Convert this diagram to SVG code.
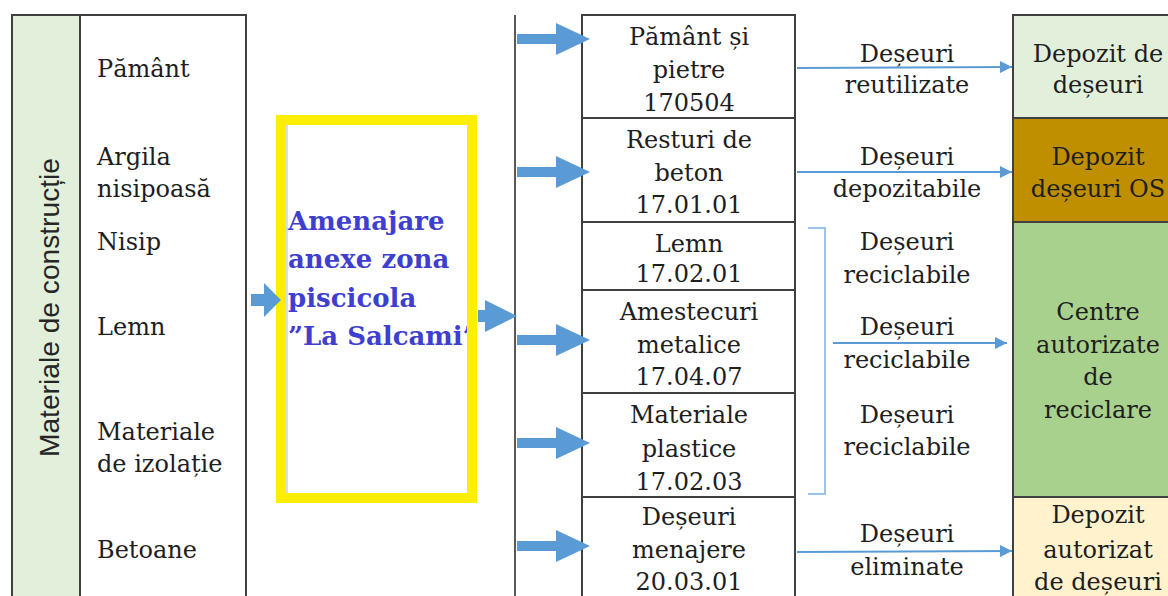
<svg xmlns="http://www.w3.org/2000/svg" width="1168" height="596" viewBox="0 0 1168 596">
<style>
.t{font-family:"DejaVu Serif","Liberation Serif",serif;font-size:24px;fill:#1e1e1e}
.c{text-anchor:middle}
.box{stroke:#404040;stroke-width:2}
.blk{fill:#5b9bd5}
.thin{stroke:#5b9bd5;stroke-width:2;fill:none}
.yt{font-family:"DejaVu Serif",serif;font-size:26px;font-weight:bold;fill:#3f3fcf}
</style>
<defs>
<marker id="ah" viewBox="0 0 12 12" refX="12" refY="6" markerWidth="12" markerHeight="12" markerUnits="userSpaceOnUse" orient="auto">
<path d="M0,0 L12,6 L0,12 Z" fill="#5b9bd5"/>
</marker>
</defs>
<rect width="1168" height="596" fill="#fff"/>

<g id="materials">
<rect x="12" y="15" width="68" height="600" fill="#e2efda" class="box"/>
<rect x="80" y="15" width="166" height="600" fill="#fff" class="box"/>
<text transform="translate(59,457) rotate(-90)" font-family="Liberation Sans, sans-serif" font-size="28" fill="#262626" textLength="299" lengthAdjust="spacingAndGlyphs">Materiale de construcție</text>
<text class="t" x="97" y="77">Pământ</text>
<text class="t" x="97" y="165">Argila</text>
<text class="t" x="97" y="197">nisipoasă</text>
<text class="t" x="97" y="250">Nisip</text>
<text class="t" x="97" y="335">Lemn</text>
<text class="t" x="97" y="440">Materiale</text>
<text class="t" x="97" y="472">de izolație</text>
<text class="t" x="97" y="558">Betoane</text>
</g>

<g id="project">
<rect x="281" y="120" width="191" height="378" fill="#fff"/>
<line x1="287" y1="125" x2="287" y2="493" stroke="#9dc3e6" stroke-width="1"/>
<text class="yt" x="288" y="230">Amenajare</text>
<text class="yt" x="288" y="268">anexe zona</text>
<text class="yt" x="288" y="307">piscicola</text>
<text class="yt" x="288" y="345">”La Salcami”</text>
<rect x="281" y="120" width="191" height="378" fill="none" stroke="#ffee00" stroke-width="10"/>
</g>

<g id="wastes">
<rect x="582" y="15" width="213" height="103" fill="#fff" class="box"/>
<rect x="582" y="118" width="213" height="104" fill="#fff" class="box"/>
<rect x="582" y="222" width="213" height="68" fill="#fff" class="box"/>
<rect x="582" y="290" width="213" height="103" fill="#fff" class="box"/>
<rect x="582" y="393" width="213" height="104" fill="#fff" class="box"/>
<rect x="582" y="497" width="213" height="120" fill="#fff" class="box"/>
<text class="t c" x="689" y="45">Pământ și</text>
<text class="t c" x="689" y="78">pietre</text>
<text class="t c" x="689" y="111">170504</text>
<text class="t c" x="689" y="148">Resturi de</text>
<text class="t c" x="689" y="181">beton</text>
<text class="t c" x="689" y="213">17.01.01</text>
<text class="t c" x="689" y="252">Lemn</text>
<text class="t c" x="689" y="282">17.02.01</text>
<text class="t c" x="689" y="320">Amestecuri</text>
<text class="t c" x="689" y="353">metalice</text>
<text class="t c" x="689" y="385">17.04.07</text>
<text class="t c" x="689" y="423">Materiale</text>
<text class="t c" x="689" y="457">plastice</text>
<text class="t c" x="689" y="490">17.02.03</text>
<text class="t c" x="689" y="525">Deșeuri</text>
<text class="t c" x="689" y="558">menajere</text>
<text class="t c" x="689" y="590">20.03.01</text>
</g>

<g id="labels">
<text class="t c" x="907" y="62">Deșeuri</text>
<text class="t c" x="907" y="93">reutilizate</text>
<text class="t c" x="907" y="165">Deșeuri</text>
<text class="t c" x="907" y="197">depozitabile</text>
<text class="t c" x="907" y="250">Deșeuri</text>
<text class="t c" x="907" y="283">reciclabile</text>
<text class="t c" x="907" y="335">Deșeuri</text>
<text class="t c" x="907" y="368">reciclabile</text>
<text class="t c" x="907" y="423">Deșeuri</text>
<text class="t c" x="907" y="455">reciclabile</text>
<text class="t c" x="907" y="542">Deșeuri</text>
<text class="t c" x="907" y="575">eliminate</text>
</g>

<g id="destinations">
<rect x="1013" y="15" width="170" height="103" fill="#e2efda" class="box"/>
<rect x="1013" y="118" width="170" height="104" fill="#bf8f00" class="box"/>
<rect x="1013" y="222" width="170" height="275" fill="#a9d18e" class="box"/>
<rect x="1013" y="497" width="170" height="120" fill="#fff2cc" class="box"/>
<text class="t c" x="1098" y="62">Depozit de</text>
<text class="t c" x="1098" y="93">deșeuri</text>
<text class="t c" x="1098" y="165">Depozit</text>
<text class="t c" x="1098" y="197">deșeuri OS</text>
<text class="t c" x="1098" y="320">Centre</text>
<text class="t c" x="1098" y="353">autorizate</text>
<text class="t c" x="1098" y="385">de</text>
<text class="t c" x="1098" y="418">reciclare</text>
<text class="t c" x="1098" y="523">Depozit</text>
<text class="t c" x="1098" y="558">autorizat</text>
<text class="t c" x="1098" y="590">de deșeuri</text>
</g>

<g id="connectors">
<line x1="515" y1="15" x2="515" y2="600" stroke="#595959" stroke-width="2"/>
<path class="blk" d="M251,294 H264 V283 L281,300 L264,317 V306 H251 Z"/>
<path class="blk" d="M478,310 H485 V300 L517,316 L485,332 V322 H478 Z"/>
<path class="blk" d="M517,34 H556 V23 L590,39 L556,55 V44 H517 Z"/>
<path class="blk" d="M517,167 H556 V156 L590,172 L556,188 V177 H517 Z"/>
<path class="blk" d="M517,335 H556 V324 L590,340 L556,356 V345 H517 Z"/>
<path class="blk" d="M517,438 H556 V427 L590,443 L556,459 V448 H517 Z"/>
<path class="blk" d="M517,541 H556 V530 L590,546 L556,562 V551 H517 Z"/>
<line class="thin" x1="797" y1="68" x2="1012" y2="67" marker-end="url(#ah)"/>
<line class="thin" x1="797" y1="172" x2="1012" y2="172" marker-end="url(#ah)"/>
<line class="thin" x1="833" y1="343" x2="1007" y2="343" marker-end="url(#ah)"/>
<line class="thin" x1="797" y1="552" x2="1012" y2="551" marker-end="url(#ah)"/>
<path d="M808,228 H825 V494 H808" fill="none" stroke="#9dc3e6" stroke-width="2"/>
</g>
</svg>
